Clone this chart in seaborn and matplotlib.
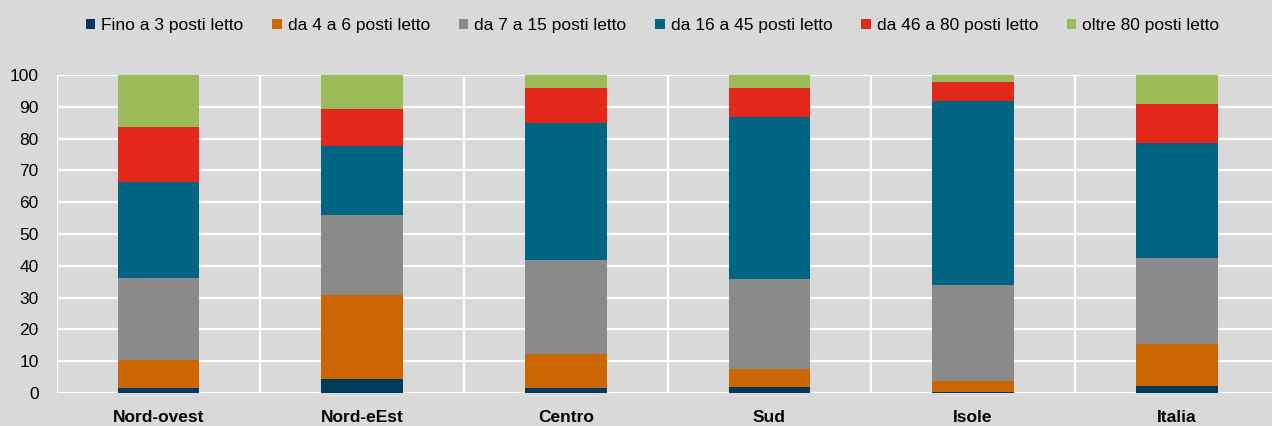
import matplotlib
matplotlib.use("Agg")
import matplotlib.pyplot as plt
import seaborn as sns
import numpy as np
import pandas as pd

# ripartizioni
regioni = ["Nord-ovest", "Nord-eEst", "Centro", "Sud", "Isole", "Italia"]

# quote % per classe di posti letto
fino_3 = [1.5, 4.3, 1.5, 1.8, 0.2, 2.3]
da_4_6 = [9.0, 26.4, 10.7, 5.7, 3.5, 13.2]
da_7_15 = [25.8, 25.4, 29.5, 28.5, 30.1, 27.1]
da_16_45 = [29.9, 21.5, 43.1, 50.8, 57.9, 36.1]
da_46_80 = [17.3, 11.7, 11.2, 9.2, 6.2, 12.3]
oltre_80 = [16.5, 10.7, 4.0, 4.0, 2.1, 9.0]

classi = ["Fino a 3 posti letto", "da 4 a 6 posti letto", "da 7 a 15 posti letto",
          "da 16 a 45 posti letto", "da 46 a 80 posti letto", "oltre 80 posti letto"]
colori = ["#003a5c", "#cc6600", "#8a8a8a", "#006482", "#e3271b", "#9bbb59"]

serie = [fino_3, da_4_6, da_7_15, da_16_45, da_46_80, oltre_80]

sns.set_theme(style="whitegrid")
plt.rcParams['font.family'] = ['Liberation Sans', 'DejaVu Sans']

bg = "#d9d9d9"
fig = plt.figure(figsize=(12.72, 4.26), dpi=100, facecolor=bg)
ax = fig.add_axes([0.0445, 0.0775, 0.9607, 0.7465])
ax.set_facecolor(bg)

bottom = np.zeros(len(regioni))
for nome, vals, col in zip(classi, serie, colori):
    df = pd.DataFrame({"regione": regioni, "valore": vals})
    sns.barplot(data=df, x="regione", y="valore", color=col, bottom=bottom,
                width=0.4, label=nome, ax=ax, saturation=1, linewidth=0)
    bottom = bottom + np.array(vals)

ax.set_xlim(-0.5, len(regioni) - 0.5)
ax.set_ylim(0, 100)
ax.set_yticks(range(0, 101, 10))
ax.set_xticks(np.arange(-0.5, len(regioni)), minor=True)
ax.grid(False)
ax.grid(True, which="minor", axis="x", color="white", lw=1.6)
ax.grid(True, which="major", axis="y", color="white", lw=1.6)
ax.set_axisbelow(True)
for s in ax.spines.values():
    s.set_visible(False)

ax.set_xlabel("")
ax.set_ylabel("")
ax.tick_params(axis="y", length=0, pad=13, labelsize=12.5, colors="black")
ax.tick_params(axis="x", which="both", length=0, pad=12, labelsize=12.5, colors="black")
for t in ax.get_xticklabels():
    t.set_fontweight("bold")

ax.legend(loc="center", bbox_to_anchor=(0.513, 0.94), bbox_transform=fig.transFigure,
          ncol=6, frameon=False, fontsize=12.5, handlelength=0.55, handleheight=0.55,
          handletextpad=0.35, columnspacing=1.65, labelcolor="black")

fig.savefig("out.png", dpi=100, facecolor=bg)
